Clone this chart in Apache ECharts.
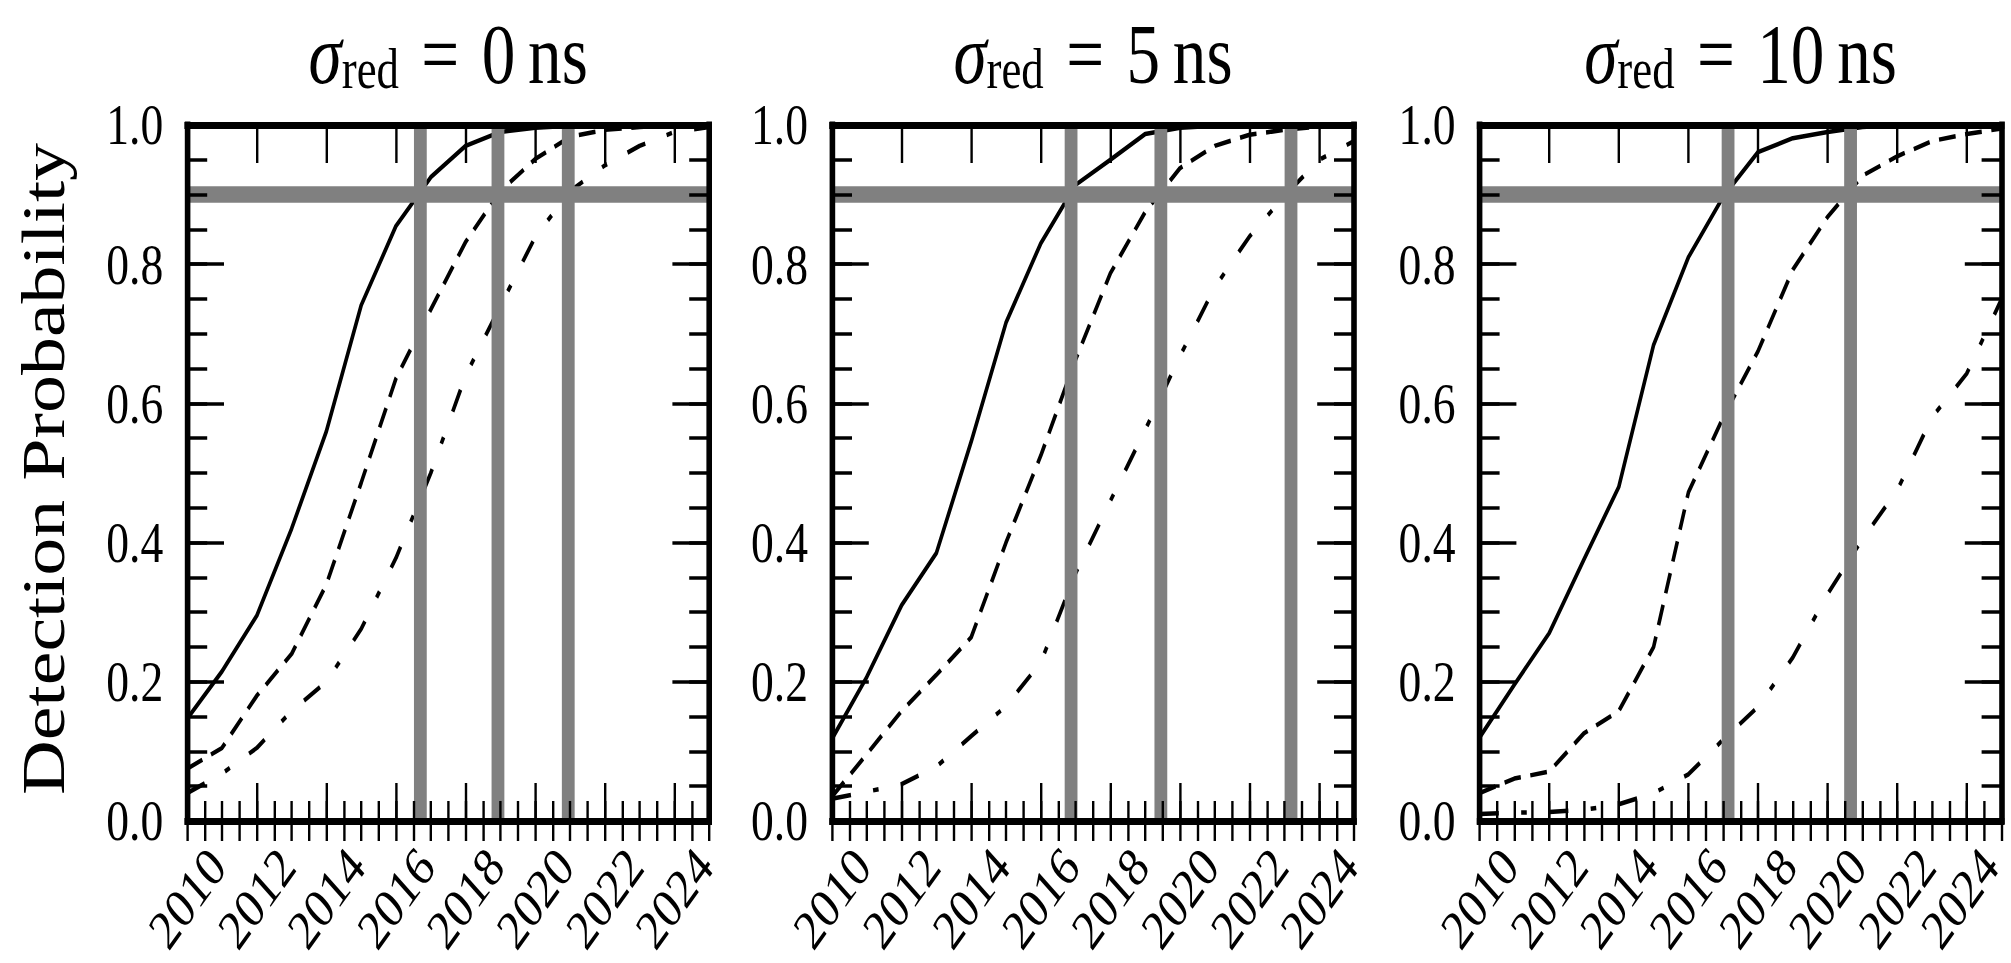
<!DOCTYPE html>
<html>
<head>
<meta charset="utf-8">
<script src="https://cdn.jsdelivr.net/npm/echarts@6/dist/echarts.min.js"></script>
<style>
  html, body { margin: 0; padding: 0; overflow: hidden; background: #fff; }
  #wrap { position: relative; width: 2011px; height: 963px; overflow: hidden; }
  /* the figure is laid out wide and squeezed horizontally to its final width */
  #chart { position: absolute; left: 0; top: 0; width: 2514px; height: 963px;
           transform: scaleX(0.8); transform-origin: 0 0; }
</style>
</head>
<body>
<div id="wrap"><div id="chart"></div></div>
<script>
// ---- data -------------------------------------------------------------
const years = [2010, 2011, 2012, 2013, 2014, 2015, 2016, 2017,
               2018, 2019, 2020, 2021, 2022, 2023, 2024, 2025];

// red-noise level of each panel (ns)
const sigmaRed = ['0', '5', '10'];

// detection probability, sigma_red = 0 ns
const solid0ns   = [0.147, 0.215, 0.295, 0.42, 0.56, 0.741, 0.855, 0.925, 0.97, 0.99, 0.996, 0.999, 1.0, 1.0, 1.0, 1.0];
const dashed0ns  = [0.075, 0.105, 0.18, 0.24, 0.34, 0.486, 0.636, 0.735, 0.832, 0.905, 0.951, 0.983, 0.993, 0.997, 1.0, 1.0];
const dashdot0ns = [0.04, 0.068, 0.105, 0.158, 0.20, 0.276, 0.378, 0.50, 0.64, 0.74, 0.839, 0.905, 0.942, 0.97, 0.99, 0.997];

// detection probability, sigma_red = 5 ns
const solid5ns   = [0.118, 0.207, 0.31, 0.385, 0.545, 0.716, 0.83, 0.914, 0.95, 0.987, 0.996, 0.999, 1.0, 1.0, 1.0, 1.0];
const dashed5ns  = [0.035, 0.096, 0.158, 0.21, 0.264, 0.40, 0.525, 0.663, 0.787, 0.875, 0.938, 0.97, 0.986, 0.993, 0.998, 1.0];
const dashdot5ns = [0.032, 0.042, 0.053, 0.078, 0.122, 0.165, 0.228, 0.356, 0.46, 0.562, 0.668, 0.767, 0.84, 0.898, 0.95, 0.977];

// detection probability, sigma_red = 10 ns
const solid10ns   = [0.12, 0.196, 0.27, 0.376, 0.48, 0.684, 0.81, 0.897, 0.961, 0.981, 0.99, 0.997, 1.0, 1.0, 1.0, 1.0];
const dashed10ns  = [0.04, 0.061, 0.071, 0.126, 0.158, 0.25, 0.472, 0.58, 0.675, 0.792, 0.868, 0.927, 0.955, 0.977, 0.987, 0.995];
const dashdot10ns = [0.01, 0.012, 0.013, 0.016, 0.024, 0.04, 0.067, 0.117, 0.164, 0.235, 0.326, 0.405, 0.475, 0.58, 0.643, 0.75];

// 90 % detection threshold and the years each curve reaches it
const threshold = 0.9;
const cross0ns  = [2016.7, 2018.93, 2020.95];
const cross5ns  = [2016.87, 2019.45, 2023.19];
const cross10ns = [2017.14, 2020.66];

// tick labels
const xTickYears  = [2010, 2012, 2014, 2016, 2018, 2020, 2022, 2024];
const yTickLabels = ['0.0', '0.2', '0.4', '0.6', '0.8', '1.0'];

const panels = [
  { solid: solid0ns,  dashed: dashed0ns,  dashdot: dashdot0ns,  cross: cross0ns  },
  { solid: solid5ns,  dashed: dashed5ns,  dashdot: dashdot5ns,  cross: cross5ns  },
  { solid: solid10ns, dashed: dashed10ns, dashdot: dashdot10ns, cross: cross10ns }
];

// ---- layout & style ---------------------------------------------------
const FONT = 'Liberation Serif';
const panelLeft = [234, 1040, 1849.5];
const panelWidth = 652.5, panelTop = 125, panelHeight = 696;
const frame = { show: true, onZero: false, lineStyle: { color: '#000', width: 7, cap: 'square' } };
const GREY = '#808080';

const grids = panelLeft.map(l => ({
  left: l, top: panelTop, width: panelWidth, height: panelHeight,
  show: false, containLabel: false, outerBoundsMode: 'none'
}));

const lastPanel = panelLeft.length - 1;
const lastYear = xTickYears[xTickYears.length - 1];

const xAxes = [], yAxes = [];
panelLeft.forEach((_, g) => {
  const xb = { type: 'value', gridIndex: g, min: 2010, max: 2025, splitLine: { show: false }, z: 10 };
  const xMajorTick = len => ({ show: true, inside: true, length: len, customValues: xTickYears,
                               lineStyle: { color: '#000', width: 3 } });
  const xMinorTick = len => ({ show: true, inside: true, length: len, lineStyle: { color: '#000', width: 3 } });
  // the right-most year label of the last panel is nudged inwards so it stays on the page
  const xFormatter = v => (g === lastPanel && v === lastYear) ? '{edge|' + v + '}' : String(v);
  xAxes.push(
    { ...xb, position: 'bottom', interval: 2, axisLine: frame, axisTick: xMajorTick(38),
      axisLabel: { show: true, customValues: xTickYears, rotate: 48, align: 'center', verticalAlign: 'middle',
                   margin: 77, fontFamily: FONT, fontSize: 56, color: '#000', formatter: xFormatter,
                   rich: { edge: { fontFamily: FONT, fontSize: 56, color: '#000', padding: [0, 12, 13, 0] } } } },
    { ...xb, position: 'bottom', interval: 0.5, axisLine: { show: false }, axisTick: xMinorTick(20),
      axisLabel: { show: false } },
    { ...xb, position: 'top', interval: 2, axisLine: frame, axisTick: xMajorTick(38),
      axisLabel: { show: false } },
    { ...xb, position: 'top', interval: 0.5, axisLine: { show: false }, axisTick: xMinorTick(20),
      axisLabel: { show: false } }
  );
  const yb = { type: 'value', gridIndex: g, min: 0, max: 1, splitLine: { show: false }, z: 10 };
  const yVals = yTickLabels.map(Number);
  const yMajorTick = { show: true, inside: true, length: 46, customValues: yVals,
                       lineStyle: { color: '#000', width: 3.5 } };
  const yMinorTick = { show: true, inside: true, length: 25, lineStyle: { color: '#000', width: 3.5 } };
  yAxes.push(
    { ...yb, position: 'left', interval: 0.2, axisLine: frame, axisTick: yMajorTick,
      axisLabel: { show: true, customValues: yVals, margin: 30, fontFamily: FONT, fontSize: 57, color: '#000',
                   formatter: v => yTickLabels[Math.round(v * 5)] } },
    { ...yb, position: 'left', interval: 0.05, axisLine: { show: false }, axisTick: yMinorTick,
      axisLabel: { show: false } },
    { ...yb, position: 'right', interval: 0.2, axisLine: frame, axisTick: yMajorTick,
      axisLabel: { show: false } },
    { ...yb, position: 'right', interval: 0.05, axisLine: { show: false }, axisTick: yMinorTick,
      axisLabel: { show: false } }
  );
});

const series = [];
panels.forEach((p, g) => {
  const axes = { xAxisIndex: 4 * g, yAxisIndex: 4 * g };
  const curve = (values, type) => ({
    type: 'line', ...axes, data: years.map((y, i) => [y, values[i]]),
    symbol: 'none', showSymbol: false, z: 3, silent: true,
    lineStyle: { color: '#000', width: 4.5, type: type, cap: 'butt' }
  });
  series.push(curve(p.solid, 'solid'));
  series.push(curve(p.dashed, [21, 12]));
  series.push(curve(p.dashdot, [24, 28, 7, 28]));
  // threshold line and the crossing years
  series.push({
    type: 'line', ...axes, data: [[2010, threshold], [2025, threshold]],
    symbol: 'none', z: 4, silent: true, lineStyle: { color: GREY, width: 16.5 }
  });
  p.cross.forEach(x => series.push({
    type: 'line', ...axes, data: [[x, 0], [x, 1]],
    symbol: 'none', z: 4, silent: true, lineStyle: { color: GREY, width: 16 }
  }));
});

const tok = extra => Object.assign({ fontFamily: FONT, fontWeight: 'normal', fontSize: 84, lineHeight: 70,
                                     verticalAlign: 'top', color: '#000' }, extra);
const titles = sigmaRed.map((s, g) => ({
  text: '{s|σ}{r|red}{e|=}{n|' + s + '}{u|ns}',
  left: panelLeft[g] + panelWidth / 2, top: 12, textAlign: 'center', padding: 0,
  textStyle: {
    fontWeight: 'normal',
    rich: {
      s: tok({ fontStyle: 'italic' }),
      r: tok({ fontSize: 56, lineHeight: 56, padding: [29, 0, 0, 0] }),
      e: tok({ padding: [0, 28, 0, 28] }),
      n: tok({ padding: [0, 16, 0, 0] }),
      u: tok({})
    }
  }
}));

const chart = echarts.init(document.getElementById('chart'), null, { renderer: 'svg' });
chart.setOption({
  animation: false,
  backgroundColor: '#fff',
  title: titles,
  grid: grids,
  xAxis: xAxes,
  yAxis: yAxes,
  series: series,
  graphic: [{
    type: 'text', x: 54, y: 469, rotation: Math.PI / 2,
    style: { text: 'Detection Probability', fontFamily: FONT, fontSize: 76, fill: '#000',
             align: 'center', verticalAlign: 'middle' }
  }]
});
</script>
</body>
</html>
